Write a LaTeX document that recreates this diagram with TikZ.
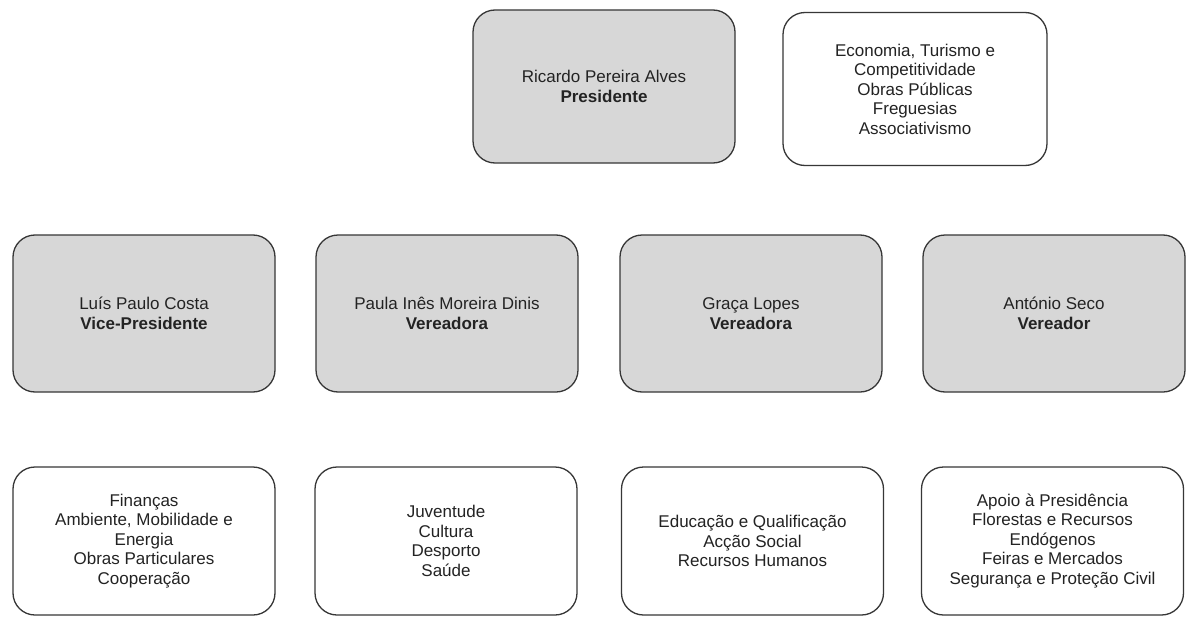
\documentclass[tikz,border=0pt]{standalone}
\usepackage{fontspec}
\setmainfont{Liberation Sans}
\definecolor{rolefill}{RGB}{215,215,215}
\definecolor{boxline}{RGB}{55,55,55}
\definecolor{txt}{RGB}{35,35,35}
\begin{document}
\begin{tikzpicture}[x=1pt,y=-1pt,
  box/.style={draw=boxline, line width=1.3pt, rounded corners=22pt, align=center,
    inner sep=0pt, text=txt, font=\fontsize{17}{19.5}\selectfont, minimum width=262pt},
  rolebox/.style={box, fill=rolefill},
  taskbox/.style={box, fill=white},
  top/.style={minimum height=153pt},
  mid/.style={minimum height=157pt},
  low/.style={minimum height=148pt}]
\useasboundingbox[fill=white] (0,0) rectangle (1186,618);
% top row
\node[rolebox, top] (pres) at (604,86.5) {Ricardo Pereira Alves\\\textbf{Presidente}};
\node[taskbox, top, minimum width=264pt] (presT) at (915,89) {Economia, Turismo e\\Competitividade\\Obras Públicas\\Freguesias\\Associativismo};
% middle row
\node[rolebox, mid] (vice) at (144,313.5) {Luís Paulo Costa\\\textbf{Vice-Presidente}};
\node[rolebox, mid] (paula) at (447,313.5) {Paula Inês Moreira Dinis\\\textbf{Vereadora}};
\node[rolebox, mid] (graca) at (751,313.5) {Graça Lopes\\\textbf{Vereadora}};
\node[rolebox, mid] (antonio) at (1054,313.5) {António Seco\\\textbf{Vereador}};
% bottom row
\node[taskbox, low] (viceT) at (144,541) {Finanças\\Ambiente, Mobilidade e\\Energia\\Obras Particulares\\Cooperação};
\node[taskbox, low] (paulaT) at (446,541) {Juventude\\Cultura\\Desporto\\Saúde};
\node[taskbox, low] (gracaT) at (752.5,541) {Educação e Qualificação\\Acção Social\\Recursos Humanos};
\node[taskbox, low] (antonioT) at (1052.5,541) {Apoio à Presidência\\Florestas e Recursos\\Endógenos\\Feiras e Mercados\\Segurança e Proteção Civil};
\end{tikzpicture}
\end{document}
